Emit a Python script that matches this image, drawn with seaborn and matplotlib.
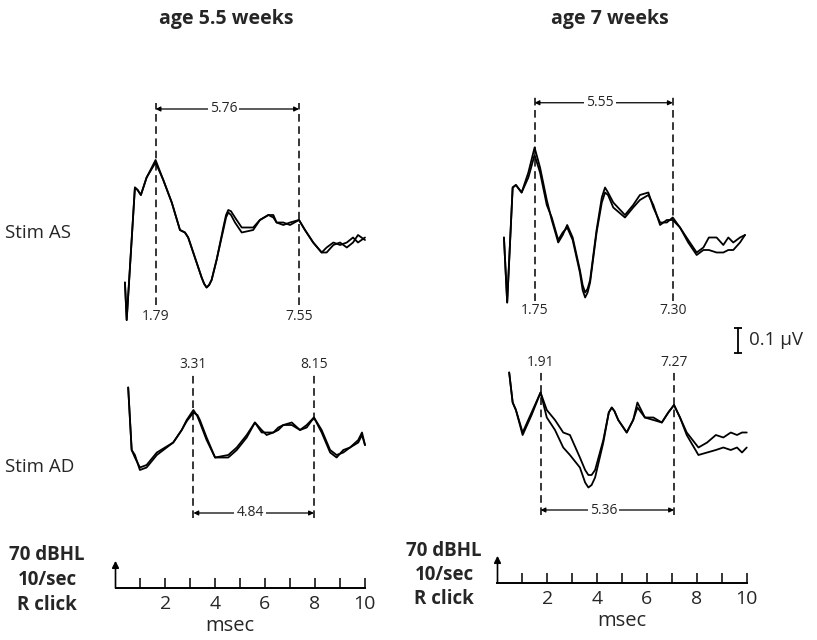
import matplotlib
matplotlib.use('Agg')
import matplotlib.pyplot as plt
import seaborn as sns

# ---- data: evoked potentials, time in msec, amplitude in microvolt ----
titles = ['age 5.5 weeks', 'age 7 weeks']
row_labels = ['Stim AS', 'Stim AD']

# age 5.5 weeks, Stim AS
w55_as_t = [0.56, 0.63, 0.96, 1.07, 1.20, 1.43, 1.79, 2.10, 2.44, 2.77, 2.97, 3.10, 3.37,
            3.64, 3.74, 3.84, 3.94, 4.04, 4.24, 4.51, 4.62, 4.71, 4.82, 4.98, 5.25, 5.71,
            5.98, 6.32, 6.52, 6.65, 6.92, 7.19, 7.55, 7.79, 8.12, 8.46, 8.66, 8.93, 9.20,
            9.47, 9.72, 9.92, 10.2]
w55_as_a1 = [-0.21, -0.36, 0.17, 0.16, 0.14, 0.21, 0.28, 0.20, 0.11, 0.00, -0.01, -0.03, -0.11,
             -0.19, -0.215, -0.23, -0.22, -0.20, -0.12, 0.01, 0.06, 0.08, 0.075, 0.05, 0.01, 0.01,
             0.04, 0.06, 0.05, 0.03, 0.03, 0.02, 0.04, 0.00, -0.05, -0.09, -0.07, -0.05, -0.06,
             -0.05, -0.03, -0.05, -0.03]
w55_as_a2 = [-0.21, -0.36, 0.17, 0.16, 0.14, 0.21, 0.27, 0.20, 0.11, 0.00, -0.01, -0.03, -0.11,
             -0.19, -0.215, -0.23, -0.22, -0.20, -0.12, 0.00, 0.05, 0.07, 0.06, 0.03, -0.01, 0.00,
             0.04, 0.06, 0.06, 0.03, 0.02, 0.03, 0.04, 0.00, -0.05, -0.09, -0.09, -0.06, -0.05,
             -0.07, -0.05, -0.02, -0.04]
w55_as_peaks = [1.79, 7.55]

# age 5.5 weeks, Stim AD
w55_ad_t = [0.69, 0.83, 0.96, 1.16, 1.43, 1.84, 2.50, 2.84, 3.04, 3.31, 3.47, 3.57, 3.84,
            4.18, 4.71, 5.05, 5.45, 5.78, 6.05, 6.25, 6.52, 6.72, 6.92, 7.26, 7.59, 7.86,
            8.15, 8.46, 8.80, 9.06, 9.33, 9.60, 9.93, 10.08, 10.2]
w55_ad_a1 = [0.21, -0.04, -0.06, -0.12, -0.11, -0.06, -0.01, 0.04, 0.08, 0.12, 0.095, 0.07, 0.00,
             -0.07, -0.07, -0.04, 0.01, 0.07, 0.04, 0.02, 0.03, 0.04, 0.06, 0.07, 0.04, 0.06,
             0.09, 0.03, -0.05, -0.07, -0.04, -0.03, -0.01, 0.02, -0.02]
w55_ad_a2 = [0.21, -0.04, -0.07, -0.11, -0.10, -0.05, -0.01, 0.04, 0.075, 0.11, 0.10, 0.08, 0.01,
             -0.07, -0.06, -0.03, 0.02, 0.07, 0.03, 0.03, 0.03, 0.05, 0.06, 0.06, 0.04, 0.05,
             0.09, 0.04, -0.04, -0.06, -0.05, -0.03, 0.00, 0.03, -0.02]
w55_ad_peaks = [3.31, 8.15]

# age 7 weeks, Stim AS
w7_as_t = [0.52, 0.65, 0.87, 1.00, 1.23, 1.50, 1.75, 1.97, 2.24, 2.44, 2.70, 2.88, 3.06,
           3.28, 3.57, 3.68, 3.78, 3.88, 3.98, 4.24, 4.45, 4.58, 4.70, 4.91, 5.38, 5.71,
           5.98, 6.32, 6.52, 6.79, 7.06, 7.30, 7.59, 7.92, 8.26, 8.53, 8.75, 9.06, 9.33,
           9.53, 9.73, 10.0, 10.2]
w7_as_a1 = [-0.03, -0.29, 0.17, 0.18, 0.15, 0.23, 0.33, 0.25, 0.12, 0.04, -0.05, -0.02, 0.02,
            -0.03, -0.16, -0.22, -0.25, -0.235, -0.20, 0.00, 0.13, 0.17, 0.15, 0.11, 0.06, 0.10,
            0.14, 0.15, 0.09, 0.03, 0.03, 0.05, 0.01, -0.04, -0.09, -0.07, -0.03, -0.03, -0.06,
            -0.03, -0.05, -0.03, -0.02]
w7_as_a2 = [-0.03, -0.29, 0.17, 0.18, 0.15, 0.21, 0.30, 0.23, 0.10, 0.05, -0.04, -0.01, 0.01,
            -0.04, -0.17, -0.24, -0.27, -0.25, -0.21, -0.01, 0.11, 0.15, 0.14, 0.09, 0.05, 0.09,
            0.12, 0.14, 0.10, 0.02, 0.04, 0.04, 0.01, -0.05, -0.10, -0.08, -0.08, -0.09, -0.09,
            -0.08, -0.08, -0.05, -0.02]
w7_as_peaks = [1.75, 7.30]

# age 7 weeks, Stim AD
w7_ad_t = [0.65, 0.79, 0.92, 1.19, 1.55, 1.91, 2.16, 2.49, 2.82, 3.09, 3.49, 3.70, 3.83,
           3.96, 4.10, 4.43, 4.65, 4.77, 4.88, 5.03, 5.37, 5.63, 5.80, 6.10, 6.44, 6.78,
           7.04, 7.27, 7.51, 7.78, 8.25, 8.60, 8.95, 9.25, 9.55, 9.80, 10.0, 10.19]
w7_ad_a1 = [0.23, 0.11, 0.08, -0.01, 0.07, 0.15, 0.08, 0.04, -0.01, -0.02, -0.11, -0.16, -0.18,
            -0.18, -0.16, -0.04, 0.07, 0.09, 0.075, 0.04, -0.01, 0.04, 0.11, 0.05, 0.05, 0.03,
            0.07, 0.10, 0.05, -0.01, -0.07, -0.05, -0.02, -0.03, -0.01, -0.02, -0.01, -0.01]
w7_ad_a2 = [0.23, 0.11, 0.08, -0.02, 0.06, 0.15, 0.05, 0.00, -0.07, -0.10, -0.15, -0.21, -0.23,
            -0.22, -0.19, -0.05, 0.07, 0.09, 0.075, 0.04, -0.01, 0.04, 0.09, 0.05, 0.04, 0.03,
            0.07, 0.10, 0.05, -0.02, -0.10, -0.09, -0.08, -0.07, -0.08, -0.07, -0.09, -0.07]
w7_ad_peaks = [1.91, 7.27]

scale_uv = 0.1
time_ticks = list(range(1, 11))
stim_text = '70 dBHL\n10/sec\nR click'

# ---- layout ----
sns.set_theme(style='white')
plt.rcParams['font.family'] = ['Open Sans', 'DejaVu Sans']

W, H = 817, 640
PX_MS = 24.9     # pixels per msec
PX_UV = 250.0    # pixels per microvolt
fig = plt.figure(figsize=(W / 100, H / 100), dpi=100)


def px_axes(x0, y0, x1, y1):
    ax = fig.add_axes([x0 / W, 1 - y1 / H, (x1 - x0) / W, (y1 - y0) / H])
    ax.patch.set_alpha(0)
    return ax


def wave_axes(t0_px, base_px):
    ax = px_axes(t0_px - 0.5 * PX_MS, base_px - 0.6 * PX_UV,
                 t0_px + 10.5 * PX_MS, base_px + 0.6 * PX_UV)
    ax.set_xlim(-0.5, 10.5)
    ax.set_ylim(-0.6, 0.6)
    ax.axis('off')
    return ax


def draw_wave(ax, t, a1, a2, peaks, dash_top, dash_bot, lab_y, brk_y):
    for a in (a1, a2):
        sns.lineplot(x=t, y=a, ax=ax, color='black', lw=1.3, sort=False, estimator=None,
                     solid_joinstyle='round', solid_capstyle='round')
    for p in peaks:
        ax.plot([p, p], [dash_bot, dash_top], color='black', lw=1.1, ls=(0, (5, 3)))
        ax.text(p, lab_y, f'{p:.2f}', ha='center', va='center', fontsize=10)
    ax.annotate('', xy=(peaks[0], brk_y), xytext=(peaks[1], brk_y),
                arrowprops=dict(arrowstyle='<|-|>', color='black', lw=0.9,
                                mutation_scale=7, shrinkA=0, shrinkB=0))
    mid = (peaks[0] + peaks[1]) / 2 - 0.15
    ax.text(mid, brk_y, f'{peaks[1] - peaks[0]:.2f}', ha='center', va='center',
            fontsize=10, bbox=dict(fc='white', ec='none', pad=1.5))


ax = wave_axes(111, 230)
draw_wave(ax, w55_as_t, w55_as_a1, w55_as_a2, w55_as_peaks, 0.508, -0.30, -0.347, 0.484)
ax = wave_axes(111, 440)
draw_wave(ax, w55_ad_t, w55_ad_a1, w55_ad_a2, w55_ad_peaks, 0.268, -0.312, 0.30, -0.292)
ax = wave_axes(491, 230)
draw_wave(ax, w7_as_t, w7_as_a1, w7_as_a2, w7_as_peaks, 0.533, -0.284, -0.324, 0.509)
# calibration bar
ax.plot([9.92, 9.92], [-0.39, -0.39 - scale_uv], color='black', lw=1.3,
        marker='_', markersize=6, markeredgewidth=1.3, clip_on=False)
ax.text(10.35, -0.39 - scale_uv / 2, f'{scale_uv} µV', ha='left', va='center', fontsize=13.5)
ax = wave_axes(493, 430)
draw_wave(ax, w7_ad_t, w7_ad_a1, w7_ad_a2, w7_ad_peaks, 0.24, -0.34, 0.268, -0.32)

# column titles and row labels
for x, title in zip([226, 610], titles):
    fig.text(x / W, 1 - 19 / H, title, ha='center', va='center', fontsize=14, fontweight='bold')
for y, lab in zip([233, 467], row_labels):
    fig.text(5 / W, 1 - y / H, lab, ha='left', va='center', fontsize=13.5)

# time scales
for t0, y_ax, msec_x, stim_x in [(115.5, 588, 4.6, -2.75), (497.5, 583, 5.0, -2.15)]:
    ax = px_axes(t0, y_ax - 40, t0 + 10 * PX_MS, y_ax)
    ax.set_xlim(0, 10)
    ax.set_ylim(0, 1)
    for s in ['top', 'left', 'right']:
        ax.spines[s].set_visible(False)
    ax.spines['bottom'].set_linewidth(1.4)
    ax.spines['bottom'].set_color('black')
    ax.set_yticks([])
    ax.set_xticks(time_ticks)
    ax.set_xticklabels([str(v) if v % 2 == 0 else '' for v in time_ticks])
    ax.tick_params(axis='x', direction='in', length=7, width=1.1, color='black',
                   pad=5, labelsize=14, bottom=True)
    ax.annotate('', xy=(0, 0.68), xytext=(0, 0), annotation_clip=False,
                arrowprops=dict(arrowstyle='-|>', color='black', lw=1.2,
                                mutation_scale=10, shrinkA=0, shrinkB=0))
    ax.text(msec_x, -0.95, 'msec', ha='center', va='center', fontsize=14.5)
    ax.text(stim_x, 0.2, stim_text, ha='center', va='center', fontsize=13.5,
            fontweight='bold', linespacing=1.3)

fig.savefig('out.png', dpi=100, facecolor='white')
